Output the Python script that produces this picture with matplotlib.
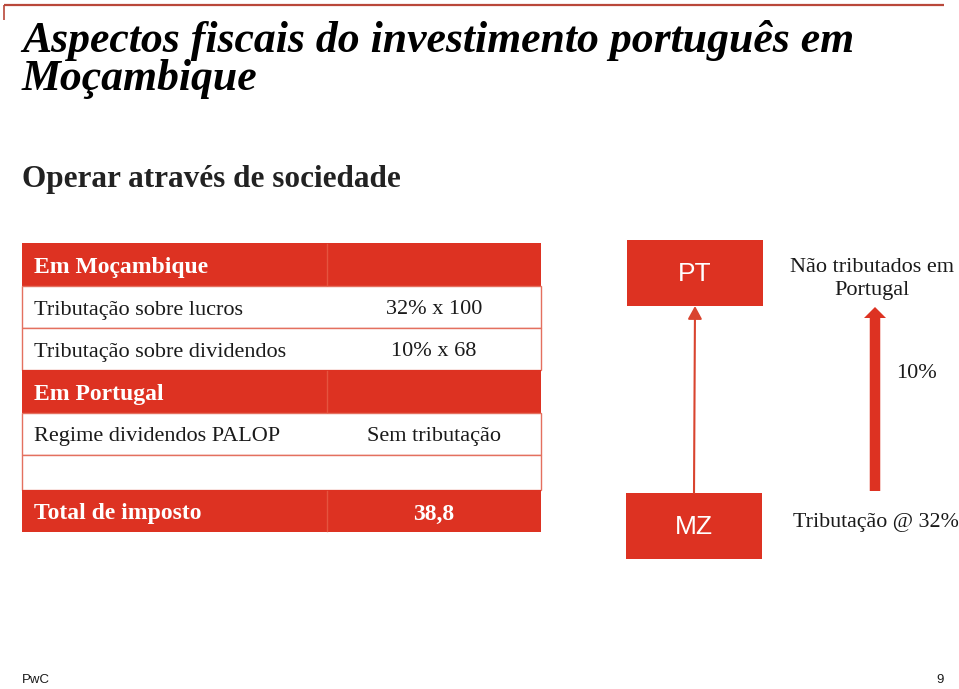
import matplotlib
matplotlib.use("Agg")
import matplotlib.pyplot as plt
from matplotlib.patches import Rectangle, FancyArrow

# ---- content ----
title_lines = ["Aspectos fiscais do investimento português em", "Moçambique"]
subtitle = "Operar através de sociedade"
row_labels = ["Em Moçambique", "Tributação sobre lucros", "Tributação sobre dividendos",
              "Em Portugal", "Regime dividendos PALOP", "", "Total de imposto"]
row_values = ["", "32% x 100", "10% x 68", "", "Sem tributação", "", "38,8"]
row_is_header = [True, False, False, True, False, False, True]
box_labels = ["PT", "MZ"]
note_top = ["Não tributados em", "Portugal"]
note_mid = "10%"
note_bottom = "Tributação @ 32%"
footer_left = "PwC"
footer_right = "9"

RED = "#dd3222"
LINE_RED = "#e4705f"
TOP_LINE = "#b9483a"
DARK = "#1a1a1a"
SERIF = ["Liberation Serif", "DejaVu Serif"]
SANS = ["Liberation Sans", "DejaVu Sans"]

W, H = 959, 689
fig = plt.figure(figsize=(W / 100, H / 100), dpi=100)
ax = fig.add_axes([0, 0, 1, 1])
ax.set_xlim(0, W)
ax.set_ylim(H, 0)
ax.axis("off")

# top rule
ax.plot([4, 944], [4.5, 4.5], color=TOP_LINE, lw=1.6, solid_capstyle="butt")
ax.plot([4, 4], [4.5, 20], color=TOP_LINE, lw=1.2, solid_capstyle="butt")

# title
ax.text(22, 52, title_lines[0], fontsize=31.5, fontweight="bold", fontstyle="italic",
        family=SERIF, color="black", va="baseline", ha="left")
ax.text(22, 90, title_lines[1], fontsize=31.5, fontweight="bold", fontstyle="italic",
        family=SERIF, color="black", va="baseline", ha="left")
ax.text(22, 187, subtitle, fontsize=22.5, fontweight="bold", family=SERIF,
        color="#222222", va="baseline", ha="left")

# table
x0, xm, x1 = 22, 327, 541
row_edges = [243, 286, 328, 370, 413, 455, 490, 532]
for i, (lab, val, hdr) in enumerate(zip(row_labels, row_values, row_is_header)):
    top, bot = row_edges[i], row_edges[i + 1]
    yc = (top + bot) / 2
    if hdr:
        ax.add_patch(Rectangle((x0, top), x1 - x0, bot - top, facecolor=RED,
                               edgecolor="none", zorder=1))
        ax.plot([xm, xm], [top + 1, bot - 1], color="#e5543f", lw=1.0, zorder=2)
        col, wt, fs = "white", "bold", 17
    else:
        ax.add_patch(Rectangle((x0, top), x1 - x0, bot - top, facecolor="white",
                               edgecolor=LINE_RED, lw=1.0, zorder=1))
        col, wt, fs = DARK, "normal", 16
    if lab:
        ax.text(34, yc + 3, lab, fontsize=fs, fontweight=wt, family=SERIF,
                color=col, va="center", ha="left", zorder=3)
    if val:
        ax.text((xm + x1) / 2, yc + 3, val, fontsize=fs, fontweight=wt, family=SERIF,
                color=col, va="center", ha="center", zorder=3)

# diagram boxes
boxes = [(627, 240, 136, 66), (626, 493, 136, 66)]
for (bx, by, bw, bh), lab in zip(boxes, box_labels):
    ax.add_patch(Rectangle((bx, by), bw, bh, facecolor=RED, edgecolor="none"))
    ax.text(bx + bw / 2, by + bh / 2 + 1, lab, fontsize=19, family=SANS,
            color="white", va="center", ha="center")

# thin connecting arrow
ax.annotate("", xy=(695, 306), xytext=(694, 493),
            arrowprops=dict(arrowstyle="-|>,head_length=0.55,head_width=0.3",
                            color="#d9442f", lw=1.5, shrinkA=0, shrinkB=0,
                            mutation_scale=14))

# thick arrow
ax.add_patch(FancyArrow(875, 491, 0, -184, width=10.5, head_width=22, head_length=11,
                        length_includes_head=True, color=RED, lw=0))

for k, line in enumerate(note_top):
    ax.text(872, 267 + 24 * k, line, fontsize=16, family=SERIF, color=DARK,
            ha="center", va="center")
ax.text(916, 374, note_mid, fontsize=16, family=SERIF, color=DARK,
        ha="center", va="center")
ax.text(876, 523, note_bottom, fontsize=15.8, family=SERIF, color=DARK,
        ha="center", va="center")

# footer
ax.text(22, 683, footer_left, fontsize=9.5, family=SANS, color=DARK,
        ha="left", va="baseline")
ax.text(944, 683, footer_right, fontsize=9.5, family=SANS, color=DARK,
        ha="right", va="baseline")

fig.savefig("out.png", dpi=100)
